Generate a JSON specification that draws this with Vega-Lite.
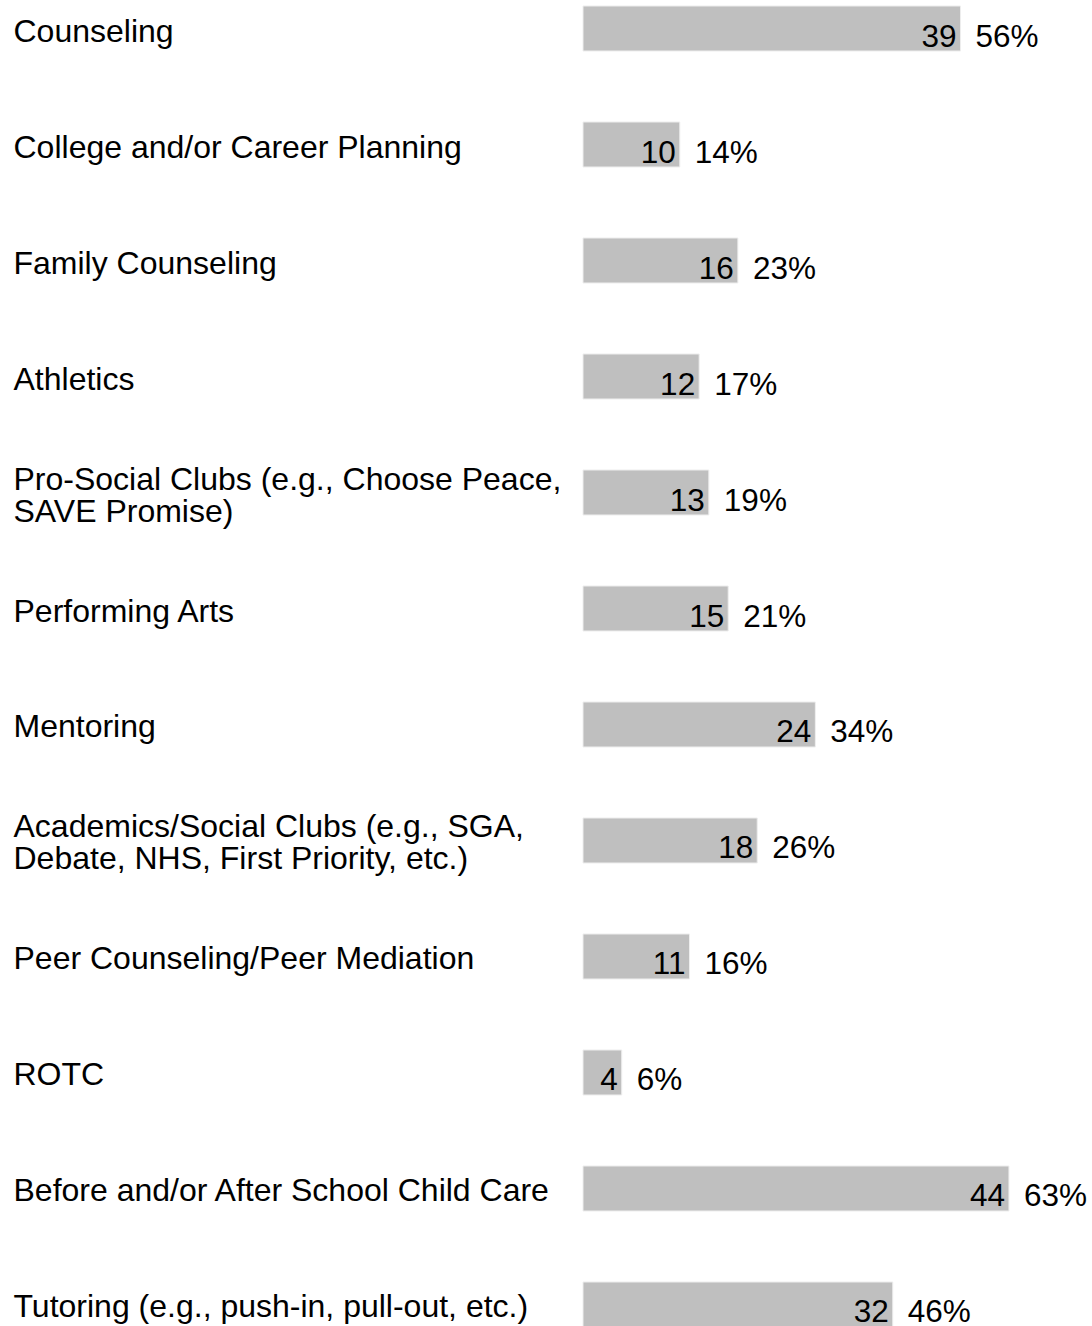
{
  "$schema": "https://vega.github.io/schema/vega-lite/v6.json",
  "width": 509,
  "height": 1333,
  "autosize": {"type": "none"},
  "padding": {"left": 583, "top": 0, "right": 0, "bottom": 0},
  "background": "white",
  "config": {"view": {"stroke": null}},
  "data": {
    "values": [
      {"label": "Counseling", "count": 39, "pct": 0.56},
      {"label": "College and/or Career Planning", "count": 10, "pct": 0.14},
      {"label": "Family Counseling", "count": 16, "pct": 0.23},
      {"label": "Athletics", "count": 12, "pct": 0.17},
      {"label": "Pro-Social Clubs (e.g., Choose Peace,\nSAVE Promise)", "count": 13, "pct": 0.19},
      {"label": "Performing Arts", "count": 15, "pct": 0.21},
      {"label": "Mentoring", "count": 24, "pct": 0.34},
      {"label": "Academics/Social Clubs (e.g., SGA,\nDebate, NHS, First Priority, etc.)", "count": 18, "pct": 0.26},
      {"label": "Peer Counseling/Peer Mediation", "count": 11, "pct": 0.16},
      {"label": "ROTC", "count": 4, "pct": 0.06},
      {"label": "Before and/or After School Child Care", "count": 44, "pct": 0.63},
      {"label": "Tutoring (e.g., push-in, pull-out, etc.)", "count": 32, "pct": 0.46}
    ]
  },
  "encoding": {
    "y": {
      "field": "label",
      "type": "nominal",
      "sort": null,
      "scale": {"paddingInner": 0.612, "paddingOuter": 0.0517},
      "axis": {
        "title": null,
        "domain": false,
        "ticks": false,
        "labelAlign": "left",
        "labelBaseline": "middle",
        "labelPadding": 570,
        "labelFont": "Liberation Sans",
        "labelFontSize": 32,
        "labelLineHeight": 32,
        "labelColor": "black",
        "labelLimit": 0,
        "labelOffset": {"condition": {"test": "indexof(datum.value, '\\n') >= 0", "value": -13}, "value": 3},
        "labelExpr": "split(datum.label, '\\n')"
      }
    },
    "x": {
      "field": "count",
      "type": "quantitative",
      "scale": {"domain": [0, 52.58], "nice": false, "zero": true},
      "axis": null
    }
  },
  "layer": [
    {
      "mark": {"type": "bar", "color": "#bfbfbf", "stroke": "#eeeeee", "strokeWidth": 1}
    },
    {
      "mark": {"type": "text", "align": "right", "baseline": "alphabetic", "dx": -4, "dy": 18, "font": "Liberation Sans", "fontSize": 31.5, "color": "black"},
      "encoding": {"text": {"field": "count", "type": "quantitative"}}
    },
    {
      "mark": {"type": "text", "align": "left", "baseline": "alphabetic", "dx": 15, "dy": 18, "font": "Liberation Sans", "fontSize": 31.5, "color": "black"},
      "encoding": {"text": {"field": "pct", "type": "quantitative", "format": ".0%"}}
    }
  ]
}
